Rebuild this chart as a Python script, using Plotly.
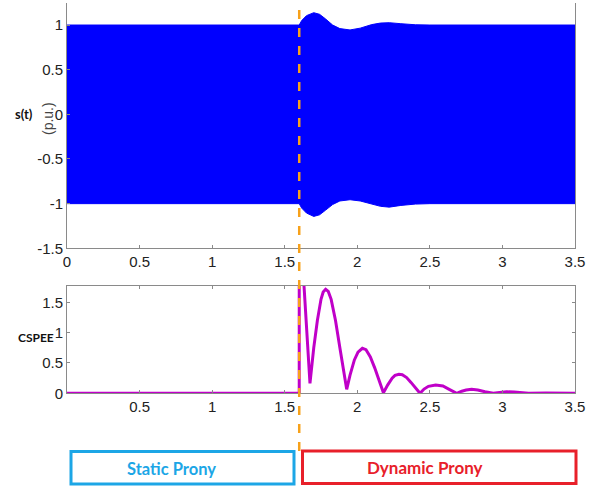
import plotly.graph_objects as go

W, H = 602, 489
L, R = 67, 575

# Top panel: signal envelope (p.u.)
env_t = [0.0, 1.6, 1.617, 1.65, 1.70, 1.74, 1.78, 1.83, 1.88, 1.95, 2.02, 2.10, 2.16, 2.22, 2.30, 2.40, 2.50, 3.5]
env_upper = [1.0, 1.0, 1.05, 1.105, 1.138, 1.12, 1.07, 1.0, 0.96, 0.945, 0.965, 1.005, 1.022, 1.026, 1.015, 1.003, 1.0, 1.0]
env_lower = [-1.0, -1.0, -1.05, -1.105, -1.143, -1.125, -1.075, -1.01, -0.97, -0.956, -0.97, -1.005, -1.03, -1.039, -1.02, -1.005, -1.0, -1.0]

# Bottom panel: CSPEE
cs_t = [0.0, 1.6, 1.6001, 1.62, 1.633, 1.645, 1.66, 1.674, 1.70, 1.725, 1.75, 1.765, 1.782, 1.80, 1.82, 1.85, 1.88, 1.905, 1.927,
        1.95, 1.98, 2.005, 2.035, 2.06, 2.09, 2.12, 2.15, 2.18,
        2.21, 2.24, 2.26, 2.287, 2.31, 2.34, 2.37, 2.40, 2.432,
        2.46, 2.49, 2.54, 2.59, 2.63, 2.66, 2.685,
        2.72, 2.75, 2.788, 2.83, 2.88, 2.937,
        2.98, 3.03, 3.08, 3.13, 3.18, 3.3, 3.5]
cs_v = [0.0, 0.0, 3.0, 2.4, 1.77, 1.3, 0.7, 0.165, 0.75, 1.2, 1.55, 1.67, 1.716, 1.68, 1.55, 1.2, 0.75, 0.35, 0.066,
        0.3, 0.55, 0.68, 0.742, 0.72, 0.6, 0.42, 0.22, 0.01,
        0.14, 0.25, 0.295, 0.313, 0.305, 0.26, 0.18, 0.09, 0.0,
        0.07, 0.115, 0.137, 0.12, 0.07, 0.03, 0.0,
        0.035, 0.055, 0.066, 0.055, 0.025, 0.0,
        0.015, 0.025, 0.02, 0.008, 0.0, 0.006, 0.0]

top_yticks = [-1.5, -1, -0.5, 0, 0.5, 1]
top_xticks = [0, 0.5, 1, 1.5, 2, 2.5, 3, 3.5]
bot_xticks = [0.5, 1, 1.5, 2, 2.5, 3, 3.5]
bot_yticks = [0, 0.5, 1, 1.5]
t_event = 1.6

def px(x): return (x - L) / (R - L)
def py(y): return 1 - y / H

fig = go.Figure()
fig.add_trace(go.Scatter(x=env_t, y=env_lower, mode="lines", line=dict(color="#0000ff", width=1),
                         showlegend=False, hoverinfo="skip", xaxis="x", yaxis="y"))
fig.add_trace(go.Scatter(x=env_t, y=env_upper, mode="lines", line=dict(color="#0000ff", width=1),
                         fill="tonexty", fillcolor="#0000ff", showlegend=False, xaxis="x", yaxis="y"))
fig.add_trace(go.Scatter(x=cs_t, y=cs_v, mode="lines", line=dict(color="#c000c8", width=3),
                         showlegend=False, xaxis="x2", yaxis="y2"))

tickfont = dict(family="Liberation Sans, Arial, sans-serif", size=15, color="#222")
axcol = "#8a8a8a"
xdom = [0, 1]

fig.update_layout(
    width=W, height=H, margin=dict(l=L, r=W - R, t=0, b=0, autoexpand=False),
    paper_bgcolor="white", plot_bgcolor="white",
    xaxis=dict(domain=xdom, range=[0, 3.5], tickvals=top_xticks, ticktext=[f"{v:g}" for v in top_xticks],
               showgrid=False, zeroline=False, showline=True, linecolor=axcol, linewidth=1, automargin=False,
               ticks="inside", ticklen=3, tickcolor=axcol, tickfont=tickfont, anchor="y"),
    yaxis=dict(domain=[py(248.3), py(2.7)], range=[-1.5, 1.25], tickvals=top_yticks,
               ticktext=[f"{v:g}" for v in top_yticks], automargin=False,
               showgrid=False, zeroline=False, showline=True, mirror=True, linecolor=axcol, linewidth=1,
               ticks="inside", ticklen=3, tickcolor=axcol, tickfont=tickfont, anchor="x"),
    xaxis2=dict(domain=xdom, range=[0, 3.5], tickvals=bot_xticks, ticktext=[f"{v:g}" for v in bot_xticks],
                showgrid=False, zeroline=False, showline=True, mirror="ticks", linecolor=axcol, linewidth=1,
                automargin=False, ticks="inside", ticklen=3, tickcolor=axcol, tickfont=tickfont, anchor="y2"),
    yaxis2=dict(domain=[py(393.3), py(286)], range=[0, 1.77], tickvals=bot_yticks,
                ticktext=[f"{v:g}" for v in bot_yticks], automargin=False,
                showgrid=False, zeroline=False, showline=True, mirror="ticks", linecolor=axcol, linewidth=1,
                ticks="inside", ticklen=3, tickcolor=axcol, tickfont=tickfont, anchor="x2"),
)

shapes = [
    dict(type="line", xref="x", yref="paper", x0=t_event, x1=t_event, y0=py(451), y1=py(9),
         line=dict(color="#f7a11a", width=2.5, dash="dash"), layer="above"),
    dict(type="rect", xref="paper", yref="paper", x0=px(71), x1=px(294), y0=py(484), y1=py(451.5),
         line=dict(color="#1ca6e6", width=3)),
    dict(type="rect", xref="paper", yref="paper", x0=px(302.5), x1=px(576), y0=py(483.5), y1=py(451),
         line=dict(color="#e8202a", width=3)),
]
fig.update_layout(shapes=shapes)

lab = "Lato, Open Sans, sans-serif"
def note(text, x, y, font, angle=0):
    return dict(text=text, x=px(x), y=py(y), xref="paper", yref="paper", showarrow=False,
                xanchor="center", yanchor="middle", textangle=angle, font=font)

ann = [
    note("<b>s(t)</b>", 24, 114, dict(family=lab, size=13, color="#111")),
    note("(p.u.)", 48, 119, dict(family="Liberation Sans, Arial", size=14, color="#444"), -90),
    note("<b>CSPEE</b>", 36, 337, dict(family=lab, size=12, color="#111")),
    note("<b>Static Prony</b>", 171, 469, dict(family=lab, size=16.5, color="#1ca6e6")),
    note("<b>Dynamic Prony</b>", 425, 467, dict(family=lab, size=17, color="#e8202a")),
]
fig.update_layout(annotations=ann)

fig.write_html("out.html", config={"displayModeBar": False},
               post_script="document.body.style.margin='0';document.body.style.overflow='hidden';")
